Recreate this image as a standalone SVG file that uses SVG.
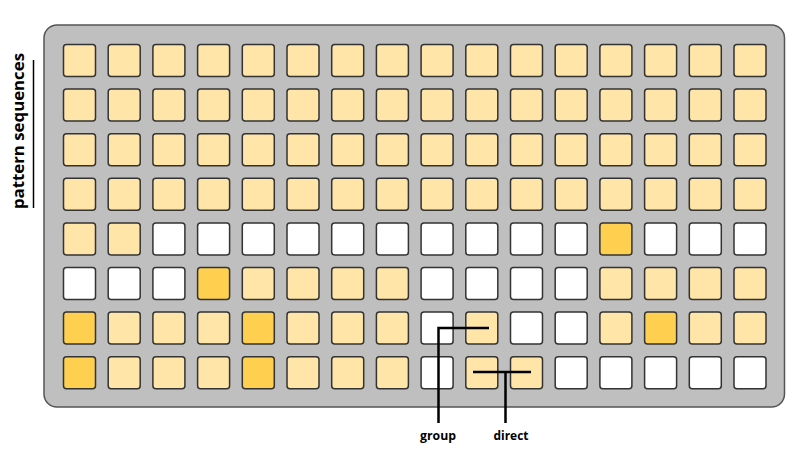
<svg xmlns="http://www.w3.org/2000/svg" width="801" height="452" viewBox="0 0 801 452">
<style>
.panel{fill:#bfbfbf;stroke:#555;stroke-width:1.5}
.c{stroke:#333;stroke-width:1.5}
.l{fill:#ffe5a8}
.d{fill:#ffd04f}
.w{fill:#fff}
.ln{stroke:#000;stroke-width:2.5;fill:none}
.t{font-family:"Open Sans","Liberation Sans",sans-serif;font-weight:700;fill:#000}
</style>
<defs>
<rect id="cell" width="32" height="32" rx="3"/>
</defs>
<rect id="panel" class="panel" x="44" y="25" width="740.5" height="382" rx="13"/>
<g id="label-left">
<text class="t" font-size="16" transform="translate(24,131) rotate(-90)" text-anchor="middle" textLength="156" lengthAdjust="spacingAndGlyphs">pattern sequences</text>
<line x1="33.5" y1="60" x2="33.5" y2="208" stroke="#000" stroke-width="1.5"/>
</g>
<g id="row0">
<use href="#cell" class="c l" x="63.5" y="44.5"/><use href="#cell" class="c l" x="108.2" y="44.5"/><use href="#cell" class="c l" x="152.9" y="44.5"/><use href="#cell" class="c l" x="197.6" y="44.5"/><use href="#cell" class="c l" x="242.3" y="44.5"/><use href="#cell" class="c l" x="287" y="44.5"/><use href="#cell" class="c l" x="331.7" y="44.5"/><use href="#cell" class="c l" x="376.4" y="44.5"/><use href="#cell" class="c l" x="421.1" y="44.5"/><use href="#cell" class="c l" x="465.8" y="44.5"/><use href="#cell" class="c l" x="510.5" y="44.5"/><use href="#cell" class="c l" x="555.2" y="44.5"/><use href="#cell" class="c l" x="599.9" y="44.5"/><use href="#cell" class="c l" x="644.6" y="44.5"/><use href="#cell" class="c l" x="689.3" y="44.5"/><use href="#cell" class="c l" x="734" y="44.5"/>
</g>
<g id="row1">
<use href="#cell" class="c l" x="63.5" y="89.1"/><use href="#cell" class="c l" x="108.2" y="89.1"/><use href="#cell" class="c l" x="152.9" y="89.1"/><use href="#cell" class="c l" x="197.6" y="89.1"/><use href="#cell" class="c l" x="242.3" y="89.1"/><use href="#cell" class="c l" x="287" y="89.1"/><use href="#cell" class="c l" x="331.7" y="89.1"/><use href="#cell" class="c l" x="376.4" y="89.1"/><use href="#cell" class="c l" x="421.1" y="89.1"/><use href="#cell" class="c l" x="465.8" y="89.1"/><use href="#cell" class="c l" x="510.5" y="89.1"/><use href="#cell" class="c l" x="555.2" y="89.1"/><use href="#cell" class="c l" x="599.9" y="89.1"/><use href="#cell" class="c l" x="644.6" y="89.1"/><use href="#cell" class="c l" x="689.3" y="89.1"/><use href="#cell" class="c l" x="734" y="89.1"/>
</g>
<g id="row2">
<use href="#cell" class="c l" x="63.5" y="133.7"/><use href="#cell" class="c l" x="108.2" y="133.7"/><use href="#cell" class="c l" x="152.9" y="133.7"/><use href="#cell" class="c l" x="197.6" y="133.7"/><use href="#cell" class="c l" x="242.3" y="133.7"/><use href="#cell" class="c l" x="287" y="133.7"/><use href="#cell" class="c l" x="331.7" y="133.7"/><use href="#cell" class="c l" x="376.4" y="133.7"/><use href="#cell" class="c l" x="421.1" y="133.7"/><use href="#cell" class="c l" x="465.8" y="133.7"/><use href="#cell" class="c l" x="510.5" y="133.7"/><use href="#cell" class="c l" x="555.2" y="133.7"/><use href="#cell" class="c l" x="599.9" y="133.7"/><use href="#cell" class="c l" x="644.6" y="133.7"/><use href="#cell" class="c l" x="689.3" y="133.7"/><use href="#cell" class="c l" x="734" y="133.7"/>
</g>
<g id="row3">
<use href="#cell" class="c l" x="63.5" y="178.3"/><use href="#cell" class="c l" x="108.2" y="178.3"/><use href="#cell" class="c l" x="152.9" y="178.3"/><use href="#cell" class="c l" x="197.6" y="178.3"/><use href="#cell" class="c l" x="242.3" y="178.3"/><use href="#cell" class="c l" x="287" y="178.3"/><use href="#cell" class="c l" x="331.7" y="178.3"/><use href="#cell" class="c l" x="376.4" y="178.3"/><use href="#cell" class="c l" x="421.1" y="178.3"/><use href="#cell" class="c l" x="465.8" y="178.3"/><use href="#cell" class="c l" x="510.5" y="178.3"/><use href="#cell" class="c l" x="555.2" y="178.3"/><use href="#cell" class="c l" x="599.9" y="178.3"/><use href="#cell" class="c l" x="644.6" y="178.3"/><use href="#cell" class="c l" x="689.3" y="178.3"/><use href="#cell" class="c l" x="734" y="178.3"/>
</g>
<g id="row4">
<use href="#cell" class="c l" x="63.5" y="222.9"/><use href="#cell" class="c l" x="108.2" y="222.9"/><use href="#cell" class="c w" x="152.9" y="222.9"/><use href="#cell" class="c w" x="197.6" y="222.9"/><use href="#cell" class="c w" x="242.3" y="222.9"/><use href="#cell" class="c w" x="287" y="222.9"/><use href="#cell" class="c w" x="331.7" y="222.9"/><use href="#cell" class="c w" x="376.4" y="222.9"/><use href="#cell" class="c w" x="421.1" y="222.9"/><use href="#cell" class="c w" x="465.8" y="222.9"/><use href="#cell" class="c w" x="510.5" y="222.9"/><use href="#cell" class="c w" x="555.2" y="222.9"/><use href="#cell" class="c d" x="599.9" y="222.9"/><use href="#cell" class="c w" x="644.6" y="222.9"/><use href="#cell" class="c w" x="689.3" y="222.9"/><use href="#cell" class="c w" x="734" y="222.9"/>
</g>
<g id="row5">
<use href="#cell" class="c w" x="63.5" y="267.5"/><use href="#cell" class="c w" x="108.2" y="267.5"/><use href="#cell" class="c w" x="152.9" y="267.5"/><use href="#cell" class="c d" x="197.6" y="267.5"/><use href="#cell" class="c l" x="242.3" y="267.5"/><use href="#cell" class="c l" x="287" y="267.5"/><use href="#cell" class="c l" x="331.7" y="267.5"/><use href="#cell" class="c l" x="376.4" y="267.5"/><use href="#cell" class="c w" x="421.1" y="267.5"/><use href="#cell" class="c w" x="465.8" y="267.5"/><use href="#cell" class="c w" x="510.5" y="267.5"/><use href="#cell" class="c w" x="555.2" y="267.5"/><use href="#cell" class="c l" x="599.9" y="267.5"/><use href="#cell" class="c l" x="644.6" y="267.5"/><use href="#cell" class="c l" x="689.3" y="267.5"/><use href="#cell" class="c l" x="734" y="267.5"/>
</g>
<g id="row6">
<use href="#cell" class="c d" x="63.5" y="312.1"/><use href="#cell" class="c l" x="108.2" y="312.1"/><use href="#cell" class="c l" x="152.9" y="312.1"/><use href="#cell" class="c l" x="197.6" y="312.1"/><use href="#cell" class="c d" x="242.3" y="312.1"/><use href="#cell" class="c l" x="287" y="312.1"/><use href="#cell" class="c l" x="331.7" y="312.1"/><use href="#cell" class="c l" x="376.4" y="312.1"/><use href="#cell" class="c w" x="421.1" y="312.1"/><use href="#cell" class="c l" x="465.8" y="312.1"/><use href="#cell" class="c w" x="510.5" y="312.1"/><use href="#cell" class="c w" x="555.2" y="312.1"/><use href="#cell" class="c l" x="599.9" y="312.1"/><use href="#cell" class="c d" x="644.6" y="312.1"/><use href="#cell" class="c l" x="689.3" y="312.1"/><use href="#cell" class="c l" x="734" y="312.1"/>
</g>
<g id="row7">
<use href="#cell" class="c d" x="63.5" y="356.7"/><use href="#cell" class="c l" x="108.2" y="356.7"/><use href="#cell" class="c l" x="152.9" y="356.7"/><use href="#cell" class="c l" x="197.6" y="356.7"/><use href="#cell" class="c d" x="242.3" y="356.7"/><use href="#cell" class="c l" x="287" y="356.7"/><use href="#cell" class="c l" x="331.7" y="356.7"/><use href="#cell" class="c l" x="376.4" y="356.7"/><use href="#cell" class="c w" x="421.1" y="356.7"/><use href="#cell" class="c l" x="465.8" y="356.7"/><use href="#cell" class="c l" x="510.5" y="356.7"/><use href="#cell" class="c w" x="555.2" y="356.7"/><use href="#cell" class="c w" x="599.9" y="356.7"/><use href="#cell" class="c w" x="644.6" y="356.7"/><use href="#cell" class="c w" x="689.3" y="356.7"/><use href="#cell" class="c w" x="734" y="356.7"/>
</g>
<g id="connectors">
<path class="ln" d="M489 328 H438.5 V423"/>
<path class="ln" d="M473 372 H531 M505.5 372 V423"/>
</g>
<g id="label-group"><text class="t" font-size="12.5" x="438" y="440" text-anchor="middle" textLength="36" lengthAdjust="spacingAndGlyphs">group</text></g>
<g id="label-direct"><text class="t" font-size="12.5" x="511" y="440" text-anchor="middle" textLength="35" lengthAdjust="spacingAndGlyphs">direct</text></g>
</svg>
